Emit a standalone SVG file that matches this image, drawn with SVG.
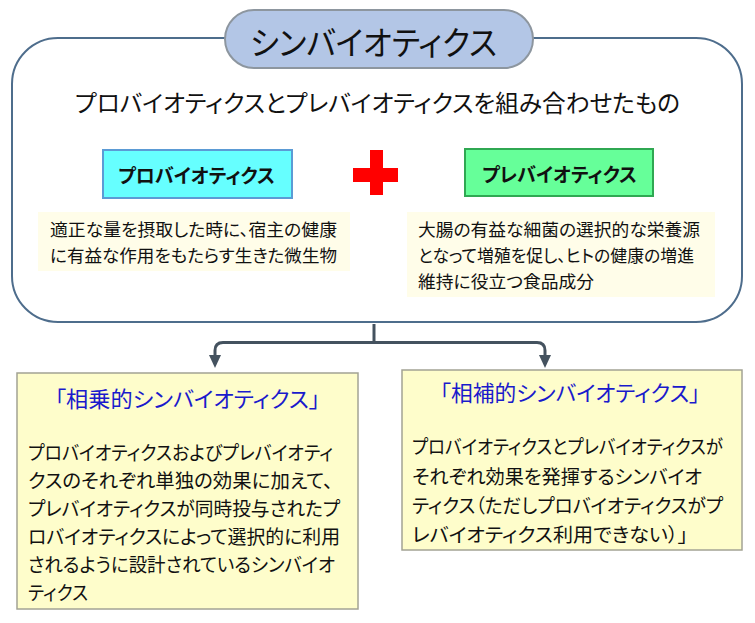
<svg xmlns="http://www.w3.org/2000/svg" width="755" height="623" viewBox="0 0 755 623">
<style>
text{font-family:"Liberation Sans","Noto Sans CJK JP",sans-serif;fill:#111;font-feature-settings:"palt"}
.body{font-size:19.5px}
.desc{font-size:17.5px}
.ttl{font-size:21.5px;fill:#1a1acc}
.bold{font-size:19.5px;font-weight:bold}
.conn{fill:none;stroke:#44525f;stroke-width:3}
.note{fill:#fefdcb;stroke:#a3a394;stroke-width:1.5}
.cream{fill:#fffde9}
</style>
<g id="main">
<rect x="12" y="38" width="730" height="284" rx="46" fill="#fff" stroke="#4e6d8c" stroke-width="2"/>
</g>
<g id="title">
<rect x="225" y="10" width="308" height="58" rx="29" fill="#b3c6e6" stroke="#8d969f" stroke-width="2"/>
<text x="250" y="55" font-size="33" textLength="247" lengthAdjust="spacingAndGlyphs">シンバイオティクス</text>
</g>
<g id="subtitle">
<text x="75" y="112" font-size="23.5" textLength="605" lengthAdjust="spacingAndGlyphs">プロバイオティクスとプレバイオティクスを組み合わせたもの</text>
</g>
<g id="probiotics">
<rect x="103" y="150" width="189" height="48" fill="#66ffff" stroke="#5b9bd5" stroke-width="2"/>
<text class="bold" x="118" y="183" textLength="157" lengthAdjust="spacingAndGlyphs">プロバイオティクス</text>
</g>
<g id="plus">
<rect x="370" y="150" width="13" height="45" fill="#ff0000"/>
<rect x="353" y="168" width="45" height="14" fill="#ff0000"/>
</g>
<g id="prebiotics">
<rect x="465" y="149" width="188" height="47" fill="#66ff99" stroke="#2fa852" stroke-width="2"/>
<text class="bold" x="482" y="182" textLength="155" lengthAdjust="spacingAndGlyphs">プレバイオティクス</text>
</g>
<g id="probiotics-desc">
<rect class="cream" x="38" y="212" width="312" height="59"/>
<text class="desc" x="50" y="236" textLength="287" lengthAdjust="spacingAndGlyphs">適正な量を摂取した時に、宿主の健康</text>
<text class="desc" x="50" y="262" textLength="287" lengthAdjust="spacingAndGlyphs">に有益な作用をもたらす生きた微生物</text>
</g>
<g id="prebiotics-desc">
<rect class="cream" x="407" y="212" width="308" height="85"/>
<text class="desc" x="418" y="236" textLength="282" lengthAdjust="spacingAndGlyphs">大腸の有益な細菌の選択的な栄養源</text>
<text class="desc" x="418" y="262" textLength="276" lengthAdjust="spacingAndGlyphs">となって増殖を促し、ヒトの健康の増進</text>
<text class="desc" x="418" y="288" textLength="176" lengthAdjust="spacingAndGlyphs">維持に役立つ食品成分</text>
</g>
<g id="connectors">
<path class="conn" d="M374,324 V342.5"/>
<path class="conn" d="M215,356 V350.5 Q215,342.5 223,342.5 H537 Q545,342.5 545,350.5 V356"/>
<path d="M209,355 L221,355 L215,368 Z" fill="#44525f"/>
<path d="M539,355 L551,355 L545,368 Z" fill="#44525f"/>
</g>
<g id="synergistic">
<rect class="note" x="17" y="373" width="341" height="236"/>
<text class="ttl" x="55" y="407" textLength="265" lengthAdjust="spacingAndGlyphs">「相乗的シンバイオティクス」</text>
<text class="body" x="28" y="460" textLength="305" lengthAdjust="spacingAndGlyphs">プロバイオティクスおよびプレバイオティ</text>
<text class="body" x="28" y="488" textLength="305" lengthAdjust="spacingAndGlyphs">クスのそれぞれ単独の効果に加えて、</text>
<text class="body" x="28" y="516" textLength="312" lengthAdjust="spacingAndGlyphs">プレバイオティクスが同時投与されたプ</text>
<text class="body" x="28" y="544" textLength="312" lengthAdjust="spacingAndGlyphs">ロバイオティクスによって選択的に利用</text>
<text class="body" x="28" y="572" textLength="307" lengthAdjust="spacingAndGlyphs">されるように設計されているシンバイオ</text>
<text class="body" x="28" y="600" textLength="60" lengthAdjust="spacingAndGlyphs">ティクス</text>
</g>
<g id="complementary">
<rect class="note" x="402" y="370" width="340" height="180"/>
<text class="ttl" x="440" y="401" textLength="260" lengthAdjust="spacingAndGlyphs">「相補的シンバイオティクス」</text>
<text class="body" x="412" y="454" textLength="311" lengthAdjust="spacingAndGlyphs">プロバイオティクスとプレバイオティクスが</text>
<text class="body" x="412" y="484" textLength="290" lengthAdjust="spacingAndGlyphs">それぞれ効果を発揮するシンバイオ</text>
<text class="body" x="412" y="513" textLength="311" lengthAdjust="spacingAndGlyphs">ティクス（ただしプロバイオティクスがプ</text>
<text class="body" x="412" y="542" textLength="276" lengthAdjust="spacingAndGlyphs">レバイオティクス利用できない）」</text>
</g>
</svg>
